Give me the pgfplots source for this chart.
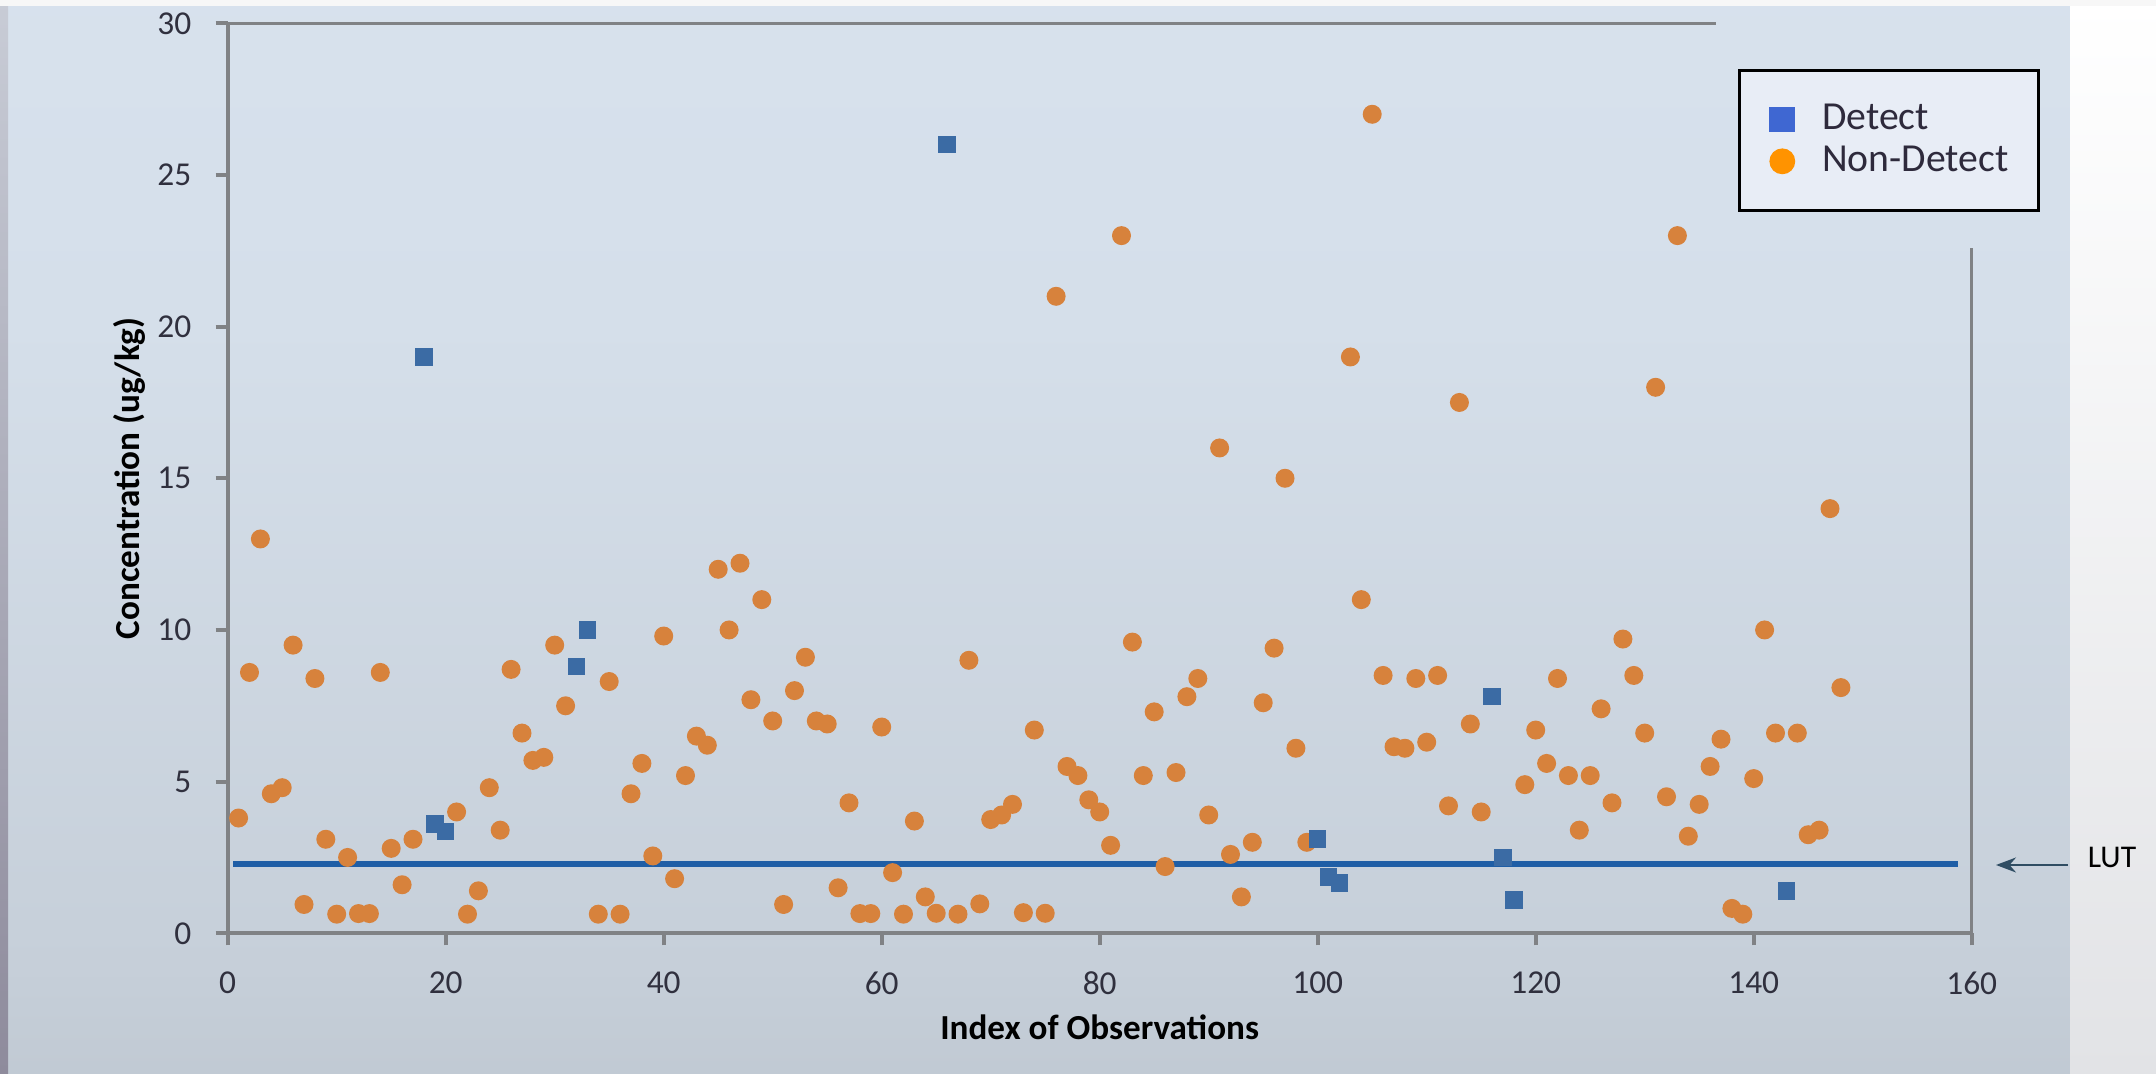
\documentclass[border=0pt]{standalone}
\usepackage{fontspec}
\setmainfont{Carlito}
\usepackage{pgfplots}
\pgfplotsset{compat=1.18}
\usetikzlibrary{arrows.meta}
\definecolor{bgtop}{HTML}{DBE5F1}
\definecolor{bgmid}{HTML}{D5DFEA}
\definecolor{bgmid2}{HTML}{C6CFD9}
\definecolor{bgbot}{HTML}{A7AFB8}
\definecolor{rightbot}{HTML}{E2E3E6}
\definecolor{edgetop}{HTML}{C8CCD6}
\definecolor{edgebot}{HTML}{8E8B9C}
\definecolor{axisgray}{HTML}{808285}
\definecolor{ticktext}{HTML}{30303E}
\definecolor{dorange}{HTML}{D7823C}
\definecolor{dblue}{HTML}{3B6BA4}
\definecolor{legblue}{HTML}{3F67D2}
\definecolor{legorange}{HTML}{FF9300}
\definecolor{legfill}{HTML}{E8EDF6}
\definecolor{legtext}{HTML}{2E2A3C}
\definecolor{lutblue}{HTML}{1F5EA6}
\definecolor{arrowcol}{HTML}{2F4D63}
\pgfdeclareverticalshading{bgshade}{100bp}{color(0bp)=(bgbot); color(30bp)=(bgmid2); color(60bp)=(bgmid); color(100bp)=(bgtop)}

\pgfplotstableread{
idx val
1 3.8
2 8.6
3 13
4 4.6
5 4.8
6 9.5
7 0.95
8 8.4
9 3.1
10 0.63
11 2.5
12 0.65
13 0.65
14 8.6
15 2.8
16 1.6
17 3.1
21 4.0
22 0.63
23 1.4
24 4.8
25 3.4
26 8.7
27 6.6
28 5.7
29 5.8
30 9.5
31 7.5
34 0.63
35 8.3
36 0.63
37 4.6
38 5.6
39 2.55
40 9.8
41 1.8
42 5.2
43 6.5
44 6.2
45 12
46 10
47 12.2
48 7.7
49 11
50 7.0
51 0.95
52 8.0
53 9.1
54 7.0
55 6.9
56 1.5
57 4.3
58 0.65
59 0.65
60 6.8
61 2.0
62 0.63
63 3.7
64 1.2
65 0.66
67 0.63
68 9.0
69 0.97
70 3.75
71 3.9
72 4.25
73 0.68
74 6.7
75 0.66
76 21
77 5.5
78 5.2
79 4.4
80 4.0
81 2.9
82 23
83 9.6
84 5.2
85 7.3
86 2.2
87 5.3
88 7.8
89 8.4
90 3.9
91 16
92 2.6
93 1.2
94 3.0
95 7.6
96 9.4
97 15
98 6.1
99 3.0
103 19
104 11
105 27
106 8.5
107 6.15
108 6.1
109 8.4
110 6.3
111 8.5
112 4.2
113 17.5
114 6.9
115 4.0
119 4.9
120 6.7
121 5.6
122 8.4
123 5.2
124 3.4
125 5.2
126 7.4
127 4.3
128 9.7
129 8.5
130 6.6
131 18
132 4.5
133 23
134 3.2
135 4.25
136 5.5
137 6.4
138 0.82
139 0.63
140 5.1
141 10
142 6.6
144 6.6
145 3.25
146 3.4
147 14
148 8.1
}\nondetect

\pgfplotstableread{
idx val
18 19
19 3.6
20 3.35
32 8.8
33 10
66 26
100 3.1
101 1.85
102 1.65
116 7.8
117 2.5
118 1.1
143 1.4
}\detect

\begin{document}
\begin{tikzpicture}
\useasboundingbox (0,0) rectangle (21.56,10.74);
\shade[shading=bgshade] (0,0) rectangle (20.70,10.74);
\shade[top color=white, bottom color=rightbot] (20.70,0) rectangle (21.56,10.74);
\shade[top color=edgetop, bottom color=edgebot] (0,0) rectangle (0.08,10.74);
\fill[white!94!gray] (0,10.68) rectangle (21.56,10.74);
\begin{axis}[
  at={(2.277cm,1.407cm)}, anchor=south west, scale only axis,
  width=17.44cm, height=9.10cm,
  xmin=0, xmax=160, ymin=0, ymax=30,
  axis x line*=bottom, axis y line*=left,
  every non boxed x axis/.append style={x axis line style=-},
  every non boxed y axis/.append style={y axis line style=-},
  axis line style={-, draw=axisgray, line width=1.15pt},
  xtick={0,20,...,160}, ytick={0,5,...,30},
  minor tick num=0,
  tick align=outside, major tick length=0.12cm,
  tick style={draw=axisgray, line width=1.15pt},
  /pgf/number format/assume math mode=true,
  tick label style={font=\fontsize{9.5}{11}\selectfont, text=ticktext},
  yticklabel style={xshift=-0.12cm},
  xticklabel style={yshift=-0.14cm},
  xlabel={Index of Observations},
  ylabel={Concentration (ug/kg)},
  every axis x label/.style={at={(axis description cs:0.5,-0.103)}, anchor=center,
    font=\fontsize{10}{12}\selectfont\bfseries, text=black},
  every axis y label/.style={at={(axis description cs:-0.0562,0.5)}, rotate=90, anchor=center,
    font=\fontsize{10}{12}\selectfont\bfseries, text=black},
  clip=false,
  legend cell align=left,
  legend style={at={(axis description cs:0.866,0.950)}, anchor=north west,
    draw=black, line width=0.8pt, fill=legfill,
    font=\fontsize{11.3}{13}\selectfont, text=legtext,
    inner xsep=0.3cm, inner ysep=0.34cm, row sep=0.11cm, column sep=0.27cm,
    nodes={inner sep=0pt}},
]
\addlegendimage{legend image code/.code={\fill[legblue] (0cm,-0.115cm) rectangle (0.23cm,0.115cm);}}
\addlegendentry{Detect}
\addlegendimage{legend image code/.code={\fill[legorange] (0.115cm,0cm) circle (0.115cm);}}
\addlegendentry{Non-Detect}
\addplot[only marks, mark=*, mark size=2.5pt, color=dorange, mark options={solid, draw=dorange, fill=dorange}, forget plot] table[x=idx, y=val] {\nondetect};
\addplot[lutblue, line width=1.7pt, forget plot] coordinates {(0.5,2.27) (158.7,2.27)};
\addplot[only marks, mark=square*, mark size=2.3pt, color=dblue, mark options={solid, draw=dblue, fill=dblue}, forget plot] table[x=idx, y=val] {\detect};
\draw[axisgray, line width=0.85pt] (axis cs:0,30) -- (axis cs:136.5,30);
\draw[axisgray, line width=0.85pt] (axis cs:160,0) -- (axis cs:160,22.6);
\end{axis}
\draw[arrowcol, line width=0.6pt, -{Stealth[length=0.2cm, width=0.15cm]}] (20.68,2.09) -- (19.96,2.09);
\node[font=\fontsize{9}{11}\selectfont, text=black] at (21.12,2.17) {LUT};
\end{tikzpicture}
\end{document}
